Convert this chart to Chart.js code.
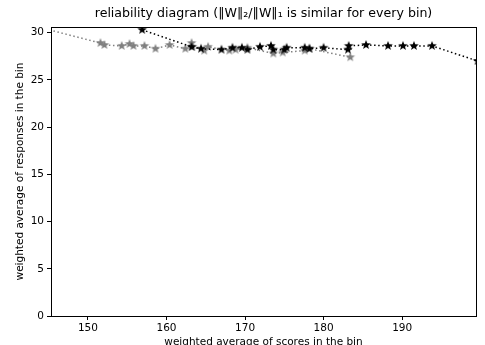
<!DOCTYPE html>
<html lang="en">
<head>
    <meta charset="UTF-8">
    <title>reliability diagram</title>
    <script src="https://cdn.jsdelivr.net/npm/chart.js"></script>
    <style>
        html, body {
            margin: 0;
            padding: 0;
            background: #fff;
            width: 485px;
            height: 345px;
            overflow: hidden;
        }
        #wrap {
            width: 485px;
            height: 349px;
        }
    </style>
</head>
<body>
    <div id="wrap">
        <canvas id="chart" width="485" height="349"></canvas>
    </div>

    <script>
        // data
        const xTicks = [150, 160, 170, 180, 190];
        const yTicks = [0, 5, 10, 15, 20, 25, 30];

        const grayX = [144.6, 151.6, 152.1, 154.3, 155.3, 155.8, 157.2, 158.6, 160.4, 162.4, 163.2,
                       163.3, 164.8, 165.3, 168.0, 168.8, 170.3, 173.6, 174.8, 177.6, 178.2, 183.4];
        const grayY = [30.4, 28.9, 28.7, 28.6, 28.8, 28.6, 28.6, 28.3, 28.7, 28.3, 28.9,
                       28.5, 28.1, 28.5, 28.1, 28.2, 28.4, 27.8, 27.9, 28.1, 28.3, 27.4];

        const blackX = [156.9, 163.2, 164.4, 167.0, 168.4, 169.6, 170.3, 171.9, 173.3, 173.6, 175.0, 175.3,
                        177.6, 178.2, 180.0, 183.1, 183.2, 185.4, 188.2, 190.1, 191.5, 193.8, 199.6];
        const blackY = [30.3, 28.5, 28.3, 28.2, 28.4, 28.4, 28.2, 28.5, 28.6, 28.2, 28.2, 28.4,
                        28.4, 28.3, 28.4, 28.2, 28.6, 28.7, 28.6, 28.6, 28.6, 28.6, 27.0];

        const titleText = 'reliability diagram (\u2016W\u2016\u2082/\u2016W\u2016\u2081 is similar for every bin)';

        // filled five-point star like matplotlib's '*'
        function makeStar(color, r) {
            const c = document.createElement('canvas');
            const s = Math.ceil(r * 2 + 2);
            c.width = s; c.height = s;
            const g = c.getContext('2d');
            g.fillStyle = color;
            g.beginPath();
            for (let i = 0; i < 10; i++) {
                const rad = i % 2 === 0 ? r : r * 0.42;
                const a = -Math.PI / 2 + i * Math.PI / 5;
                const px = s / 2 + rad * Math.cos(a);
                const py = s / 2 + rad * Math.sin(a);
                if (i === 0) g.moveTo(px, py); else g.lineTo(px, py);
            }
            g.closePath();
            g.fill();
            return c;
        }

        const toPts = (xs, ys) => xs.map((x, i) => ({ x: x, y: ys[i] }));

        // box around the plot area + title centred over it (matplotlib style)
        const frame = {
            id: 'frame',
            afterDatasetsDraw(chart) {
                const a = chart.chartArea;
                const g = chart.ctx;
                g.save();
                g.strokeStyle = '#000';
                g.lineWidth = 1;
                g.strokeRect(Math.round(a.left) + 0.5, Math.round(a.top) + 0.5,
                             Math.round(a.right - a.left), Math.round(a.bottom - a.top));
                g.fillStyle = '#000';
                g.font = '12.6px "DejaVu Sans"';
                g.textAlign = 'center';
                g.textBaseline = 'middle';
                g.fillText(titleText, (a.left + a.right) / 2, 14);
                g.restore();
            }
        };

        const font = { family: 'DejaVu Sans', size: 10.5 };

        const chart = new Chart(document.getElementById('chart'), {
            type: 'scatter',
            data: {
                datasets: [
                    {
                        data: toPts(blackX, blackY),
                        showLine: true,
                        borderColor: '#000',
                        borderWidth: 1.5,
                        borderDash: [1.5, 2.6],
                        pointStyle: makeStar('#000', 5),
                        clip: 0
                    },
                    {
                        data: toPts(grayX, grayY),
                        showLine: true,
                        borderColor: '#808080',
                        borderWidth: 1.5,
                        borderDash: [1.5, 2.6],
                        pointStyle: makeStar('#808080', 5),
                        clip: 0
                    }
                ]
            },
            options: {
                responsive: false,
                animation: false,
                layout: { padding: { left: 0, right: 9, top: 27, bottom: 0 } },
                plugins: {
                    legend: { display: false },
                    tooltip: { enabled: false },
                    title: { display: false }
                },
                scales: {
                    x: {
                        type: 'linear',
                        min: 145.3,
                        max: 199.4,
                        afterBuildTicks: (ax) => { ax.ticks = xTicks.map(v => ({ value: v })); },
                        afterFit: (ax) => { ax.height = 33; },
                        grid: { display: true, drawOnChartArea: false, drawTicks: true, tickLength: 4, color: '#000' },
                        border: { display: false },
                        ticks: { color: '#000', font: font, padding: 2, maxRotation: 0 },
                        title: {
                            display: true,
                            text: 'weighted average of scores in the bin',
                            color: '#000',
                            font: font,
                            padding: { top: 0, bottom: 0 }
                        }
                    },
                    y: {
                        type: 'linear',
                        min: 0,
                        max: 30.6,
                        afterBuildTicks: (ax) => { ax.ticks = yTicks.map(v => ({ value: v })); },
                        afterFit: (ax) => { ax.width = 51; },
                        grid: { display: true, drawOnChartArea: false, drawTicks: true, tickLength: 4, color: '#000' },
                        border: { display: false },
                        ticks: { color: '#000', font: font, padding: 3 },
                        title: {
                            display: true,
                            text: 'weighted average of responses in the bin',
                            color: '#000',
                            font: font,
                            padding: { top: 14, bottom: 0 }
                        }
                    }
                },
                elements: {
                    point: { radius: 5, hoverRadius: 5 },
                    line: { tension: 0 }
                }
            },
            plugins: [frame]
        });
    </script>
</body>
</html>
